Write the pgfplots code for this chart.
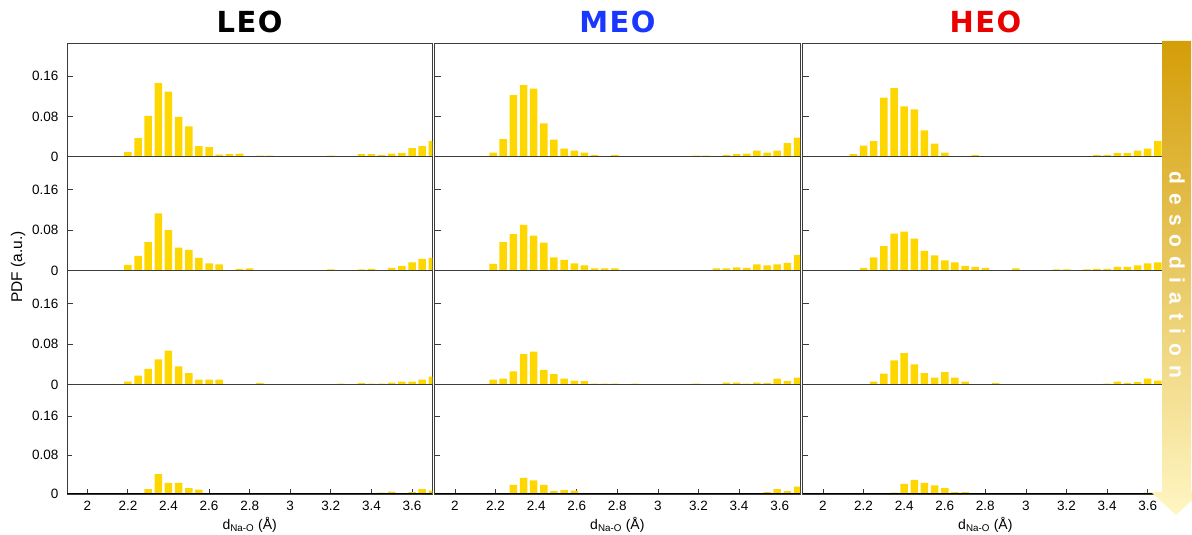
\documentclass[border=0pt]{standalone}
\usepackage{pgfplots}
\pgfplotsset{compat=1.18}
\usepackage{fontspec}
\setmainfont{Liberation Sans}
\newfontfamily\spacedfont[LetterSpace=42]{Liberation Sans}
\newfontfamily\titlefont[LetterSpace=5]{DejaVu Sans}
\definecolor{bargold}{RGB}{255,215,0}
\definecolor{meoblue}{RGB}{25,55,255}
\definecolor{heored}{RGB}{235,0,0}
\definecolor{frame}{RGB}{60,60,60}
\pgfplotsset{
  panel/.style={
    scale only axis, width=365.3pt,
    xmin=1.9, xmax=3.7, ymin=0, ymax=0.225,
    ybar, bar width=0.037,
    every axis plot post/.append style={fill=bargold, draw=none},
    ytick={0,0.08,0.16}, yticklabels={0,0.08,0.16},
    ytick pos=left, xtick pos=bottom, tick align=inside,
    major tick length=6pt,
    axis line style={draw=frame, line width=0.9pt},
    tick style={draw=frame, line width=0.8pt},
    ticklabel style={font=\fontsize{13.5}{15}\selectfont},
    yticklabel style={xshift=-5pt},
    xtick=\empty,
  },
  norow/.style={yticklabels={}},
  meo/.style={every axis plot post/.append style={/pgf/bar shift=-2.5pt}},
  bottomrow/.style={
    xtick={2,2.2,2.4,2.6,2.8,3,3.2,3.4,3.6},
    xticklabels={2,2.2,2.4,2.6,2.8,3,3.2,3.4,3.6},
    major tick length=5pt,
    xticklabel style={yshift=-4pt},
    xlabel={d\textsubscript{Na-O} (Å)},
    xlabel style={font=\fontsize{14}{16}\selectfont, yshift=1pt},
  },
}
\newcommand{\zeroline}{\draw[black, line width=1.3pt] (rel axis cs:0,0) -- (rel axis cs:1,0);}
\begin{document}
\begin{tikzpicture}
\path[use as bounding box] (0pt,0pt) rectangle (1192pt,535pt);
% ---------------- LEO ----------------
\begin{axis}[panel, at={(67pt,378.3pt)}, anchor=south west, height=113.4pt]
\addplot coordinates {(2.2,0.009)(2.25,0.037)(2.3,0.081)(2.35,0.146)(2.4,0.129)(2.45,0.079)(2.5,0.060)(2.55,0.021)(2.6,0.019)(2.65,0.004)(2.7,0.005)(2.75,0.006)(2.85,0.002)(2.9,0.002)(3.2,0.002)(3.35,0.005)(3.4,0.005)(3.45,0.003)(3.5,0.006)(3.55,0.007)(3.6,0.017)(3.65,0.021)(3.7,0.031)};
\zeroline
\end{axis}
\begin{axis}[panel, at={(67pt,264.5pt)}, anchor=south west, height=113.8pt]
\addplot coordinates {(2.2,0.011)(2.25,0.029)(2.3,0.056)(2.35,0.113)(2.4,0.080)(2.45,0.045)(2.5,0.041)(2.55,0.025)(2.6,0.014)(2.65,0.012)(2.75,0.003)(2.8,0.004)(3.2,0.002)(3.35,0.002)(3.4,0.003)(3.5,0.005)(3.55,0.009)(3.6,0.016)(3.65,0.023)(3.7,0.025)};
\zeroline
\end{axis}
\begin{axis}[panel, at={(67pt,150.3pt)}, anchor=south west, height=114.2pt]
\addplot coordinates {(2.2,0.006)(2.25,0.018)(2.3,0.031)(2.35,0.050)(2.4,0.067)(2.45,0.036)(2.5,0.023)(2.55,0.010)(2.6,0.010)(2.65,0.010)(2.85,0.003)(3.25,0.002)(3.3,0.001)(3.35,0.003)(3.4,0.002)(3.45,0.002)(3.5,0.004)(3.55,0.006)(3.6,0.006)(3.65,0.010)(3.7,0.016)};
\zeroline
\end{axis}
\begin{axis}[panel, bottomrow, at={(67pt,41pt)}, anchor=south west, height=109.3pt]
\addplot coordinates {(2.3,0.010)(2.35,0.041)(2.4,0.023)(2.45,0.023)(2.5,0.012)(2.55,0.009)(3.45,0.003)(3.5,0.005)(3.6,0.004)(3.65,0.010)(3.7,0.007)};
\zeroline
\end{axis}
% ---------------- MEO ----------------
\begin{axis}[panel, norow, meo, at={(434.7pt,378.3pt)}, anchor=south west, height=113.4pt]
\addplot coordinates {(2.2,0.008)(2.25,0.035)(2.3,0.122)(2.35,0.142)(2.4,0.135)(2.45,0.066)(2.5,0.034)(2.55,0.016)(2.6,0.012)(2.65,0.008)(2.7,0.003)(2.8,0.003)(3.2,0.002)(3.25,0.002)(3.35,0.003)(3.4,0.005)(3.45,0.006)(3.5,0.012)(3.55,0.008)(3.6,0.012)(3.65,0.027)(3.7,0.038)};
\zeroline
\end{axis}
\begin{axis}[panel, norow, meo, at={(434.7pt,264.5pt)}, anchor=south west, height=113.8pt]
\addplot coordinates {(2.2,0.013)(2.25,0.056)(2.3,0.072)(2.35,0.090)(2.4,0.069)(2.45,0.055)(2.5,0.026)(2.55,0.021)(2.6,0.014)(2.65,0.010)(2.7,0.004)(2.75,0.004)(2.8,0.004)(3.3,0.004)(3.35,0.004)(3.4,0.006)(3.45,0.005)(3.5,0.012)(3.55,0.010)(3.6,0.012)(3.65,0.015)(3.7,0.031)};
\zeroline
\end{axis}
\begin{axis}[panel, norow, meo, at={(434.7pt,150.3pt)}, anchor=south west, height=114.2pt]
\addplot coordinates {(2.2,0.010)(2.25,0.012)(2.3,0.026)(2.35,0.060)(2.4,0.065)(2.45,0.029)(2.5,0.021)(2.55,0.012)(2.6,0.008)(2.65,0.007)(2.7,0.002)(2.75,0.002)(2.8,0.002)(2.9,0.002)(3.2,0.002)(3.35,0.004)(3.4,0.004)(3.45,0.002)(3.5,0.004)(3.55,0.003)(3.6,0.012)(3.65,0.007)(3.7,0.014)};
\zeroline
\end{axis}
\begin{axis}[panel, norow, meo, bottomrow, at={(434.7pt,41pt)}, anchor=south west, height=109.3pt]
\addplot coordinates {(2.3,0.019)(2.35,0.033)(2.4,0.028)(2.45,0.019)(2.5,0.006)(2.55,0.008)(2.6,0.007)(3.55,0.004)(3.6,0.010)(3.65,0.006)(3.7,0.015)};
\zeroline
\end{axis}
% ---------------- HEO ----------------
\begin{axis}[panel, norow, at={(802.7pt,378.3pt)}, anchor=south west, height=113.4pt]
\addplot coordinates {(2.15,0.005)(2.2,0.022)(2.25,0.031)(2.3,0.117)(2.35,0.136)(2.4,0.100)(2.45,0.094)(2.5,0.052)(2.55,0.026)(2.6,0.008)(2.75,0.003)(3.35,0.003)(3.4,0.003)(3.45,0.007)(3.5,0.007)(3.55,0.012)(3.6,0.016)(3.65,0.031)(3.7,0.035)};
\zeroline
\end{axis}
\begin{axis}[panel, norow, at={(802.7pt,264.5pt)}, anchor=south west, height=113.8pt]
\addplot coordinates {(2.2,0.005)(2.25,0.026)(2.3,0.048)(2.35,0.073)(2.4,0.077)(2.45,0.063)(2.5,0.039)(2.55,0.030)(2.6,0.020)(2.65,0.016)(2.7,0.009)(2.75,0.007)(2.8,0.005)(2.95,0.004)(3.15,0.002)(3.2,0.002)(3.3,0.002)(3.35,0.003)(3.4,0.003)(3.45,0.007)(3.5,0.007)(3.55,0.010)(3.6,0.014)(3.65,0.016)(3.7,0.020)};
\zeroline
\end{axis}
\begin{axis}[panel, norow, at={(802.7pt,150.3pt)}, anchor=south west, height=114.2pt]
\addplot coordinates {(2.25,0.006)(2.3,0.022)(2.35,0.048)(2.4,0.062)(2.45,0.040)(2.5,0.023)(2.55,0.014)(2.6,0.025)(2.65,0.014)(2.7,0.006)(2.85,0.003)(3.3,0.001)(3.4,0.002)(3.45,0.006)(3.5,0.003)(3.55,0.005)(3.6,0.012)(3.65,0.008)(3.7,0.010)};
\zeroline
\end{axis}
\begin{axis}[panel, norow, bottomrow, at={(802.7pt,41pt)}, anchor=south west, height=109.3pt]
\addplot coordinates {(2.35,0.003)(2.4,0.021)(2.45,0.029)(2.5,0.023)(2.55,0.018)(2.6,0.012)(2.65,0.004)(2.7,0.004)(3.6,0.003)(3.7,0.005)};
\zeroline
\end{axis}
% ---------------- titles and labels ----------------
\node[font=\fontsize{29}{32}\selectfont\titlefont\bfseries, text=black] at (249.6pt,513pt) {LEO};
\node[font=\fontsize{29}{32}\selectfont\titlefont\bfseries, text=meoblue] at (617.4pt,513pt) {MEO};
\node[font=\fontsize{29}{32}\selectfont\titlefont\bfseries, text=heored] at (985.4pt,513pt) {HEO};
\node[font=\fontsize{15.5}{18}\selectfont, rotate=90] at (18pt,268pt) {PDF (a.u.)};
% ---------------- desodiation arrow ----------------
\shade[top color={rgb,255:red,212;green,158;blue,8},
       middle color={rgb,255:red,246;green,200;blue,72},
       bottom color={rgb,255:red,255;green,246;blue,195}]
  (1162pt,494pt) -- (1191pt,494pt) -- (1191pt,43pt) -- (1201pt,43pt)
  -- (1176pt,20pt) -- (1151pt,43pt) -- (1162pt,43pt) -- cycle;
\node[rotate=-90, text=white, font=\fontsize{21}{24}\selectfont\spacedfont\bfseries] at (1177pt,260pt) {desodiation};
\end{tikzpicture}
\end{document}
